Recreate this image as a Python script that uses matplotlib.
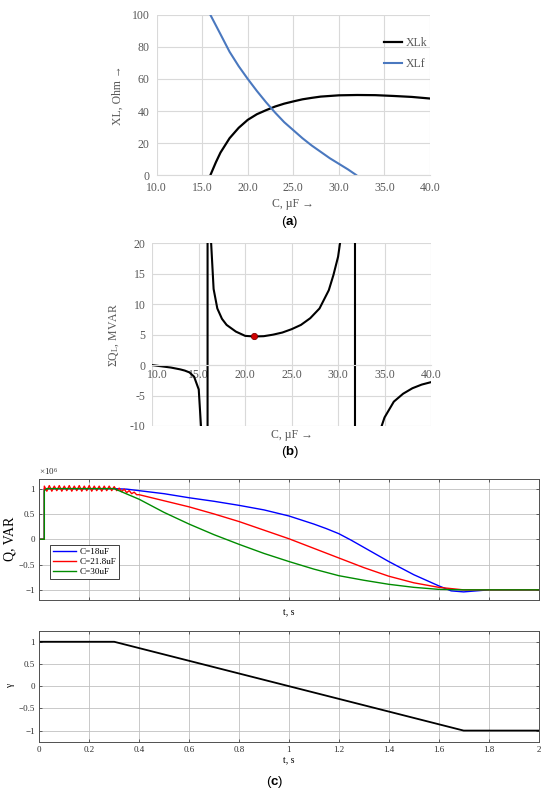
import matplotlib
matplotlib.use('Agg')
import matplotlib.pyplot as plt
import matplotlib.transforms as mtransforms
from matplotlib.ticker import FormatStrFormatter, FuncFormatter

# ── data ─────────────────────────────────────────────────────────────────

# (a) reactances vs capacitance
xlk_c = [15.9, 16.5, 17, 18, 19, 20, 21, 22, 23, 24, 25, 26, 27, 28, 30, 32, 34, 36, 38, 40]
xlk_v = [0, 8, 14, 23, 29.5, 34.5, 38, 40.5, 42.8, 44.6, 46, 47.3, 48.2, 49, 49.8, 50, 49.9, 49.4, 48.8, 47.8]
xlf_c = [15.9, 17, 18, 19, 20, 21, 22, 23, 24, 25, 26, 27, 28, 29, 30, 31, 31.9]
xlf_v = [100, 88, 77, 68, 60, 52.5, 45.5, 39, 33, 28, 23, 18.5, 14.5, 10.5, 7, 3.5, 0]

# (b) total reactive power vs capacitance (values past the limits are clipped)
sq_c = [10, 11, 12, 13, 13.5, 14, 14.5, 15, 15.24, 15.5, 15.95, 15.95, 16.3, 16.6, 17, 17.5,
        18, 19, 20, 21, 22, 23, 24, 25, 26, 27, 28, 29, 29.5, 30, 30.3, 31, 31.82, 31.82,
        33, 34.69, 35, 36, 37, 38, 39, 40]
sq_v = [0, -0.2, -0.4, -0.7, -0.9, -1.2, -1.9, -4.0, -10, -20, -300, 300, 21, 12.5, 9.3, 7.6,
        6.6, 5.5, 4.8, 4.7, 4.75, 5.0, 5.35, 5.9, 6.6, 7.7, 9.3, 12.3, 14.8, 17.8, 21, 60, 400, -400,
        -40, -10, -8.6, -6.0, -4.7, -3.8, -3.2, -2.8]
opt_c = [21]
opt_v = [4.7]

# (c) reactive power, x1e6 VAR
q_blue_t = [0, 0.02, 0.02, 0.3, 0.35, 0.4, 0.5, 0.6, 0.7, 0.8, 0.9, 1.0, 1.1, 1.15, 1.2, 1.25,
            1.3, 1.4, 1.5, 1.6, 1.65, 1.7, 1.75, 1.8, 2.0]
q_blue = [0, 0, 1.0, 1.0, 0.99, 0.96, 0.90, 0.82, 0.75, 0.67, 0.58, 0.46, 0.30, 0.21, 0.11, -0.02,
          -0.16, -0.44, -0.70, -0.92, -1.02, -1.04, -1.02, -1.0, -1.0]
q_red_t = [0, 0.02, 0.02, 0.03, 0.04, 0.05, 0.06, 0.07, 0.08, 0.09, 0.10, 0.11, 0.12, 0.13, 0.14,
           0.15, 0.16, 0.17, 0.18, 0.19, 0.20, 0.21, 0.22, 0.23, 0.24, 0.25, 0.26, 0.27, 0.28,
           0.29, 0.30, 0.31, 0.32, 0.33, 0.34, 0.35, 0.36, 0.37, 0.38, 0.39, 0.40, 0.5, 0.6,
           0.7, 0.8, 0.9, 1.0, 1.1, 1.2, 1.3, 1.4, 1.5, 1.6, 1.7, 1.8, 2.0]
q_red = [0, 0, 1.05, 0.95, 1.06, 0.95, 1.05, 0.96, 1.06, 0.95, 1.05, 0.96, 1.06, 0.95, 1.05,
         0.96, 1.06, 0.95, 1.05, 0.96, 1.06, 0.95, 1.05, 0.96, 1.05, 0.95, 1.05, 0.96, 1.05,
         0.96, 1.04, 0.96, 1.01, 0.94, 0.99, 0.92, 0.96, 0.90, 0.93, 0.88, 0.88, 0.76, 0.64,
         0.50, 0.35, 0.18, 0.01, -0.18, -0.37, -0.56, -0.73, -0.86, -0.95, -1.0, -1.0, -1.0]
q_green_t = [0, 0.02, 0.02, 0.03, 0.3, 0.4, 0.5, 0.6, 0.7, 0.8, 0.9, 1.0, 1.1, 1.2, 1.3, 1.4,
             1.5, 1.6, 1.7, 1.8, 2.0]
q_green = [0, 0, 0.96, 1.0, 1.0, 0.79, 0.53, 0.30, 0.09, -0.10, -0.28, -0.44, -0.59, -0.72, -0.81,
           -0.89, -0.95, -0.99, -1.0, -1.0, -1.0]

# (c) control signal gamma
g_t = [0, 0.3, 1.7, 2.0]
g_v = [1, 1, -1, -1]

# ── style ────────────────────────────────────────────────────────────────

plt.rcParams.update({
    'font.family': ['Liberation Serif', 'DejaVu Serif'],
    'mathtext.fontset': 'custom',
    'mathtext.rm': 'Liberation Serif',
    'mathtext.it': 'Liberation Serif:italic',
    'mathtext.bf': 'Liberation Sans:bold',
})

GRID_XL = '#d9d9d9'
TXT_XL = '#595959'

fig = plt.figure(figsize=(5.5, 7.97), dpi=100)


def excel_axes(ax):
    for s in ['top', 'right', 'left']:
        ax.spines[s].set_visible(False)
    ax.spines['bottom'].set_color(GRID_XL)
    ax.grid(True, color=GRID_XL, linewidth=0.8)
    ax.set_axisbelow(True)
    ax.tick_params(length=0, labelsize=8.5, colors=TXT_XL, pad=5)
    ax.yaxis.set_major_formatter(FuncFormatter(lambda v, p: '%d' % v))


# ── (a) ──
ax1 = fig.add_axes([0.2849, 0.7804, 0.4969, 0.2008])
excel_axes(ax1)
ax1.plot(xlk_c, xlk_v, color='black', linewidth=1.6, label='XLk')
ax1.plot(xlf_c, xlf_v, color='#4a78bf', linewidth=1.5, label='XLf')
ax1.set_xlim(10, 40)
ax1.set_ylim(0, 100)
ax1.set_xticks([10, 15, 20, 25, 30, 35, 40])
ax1.set_yticks([0, 20, 40, 60, 80, 100])
ax1.xaxis.set_major_formatter(FormatStrFormatter('%.1f'))
ax1.set_xlabel('C, µF →', fontsize=8.5, color=TXT_XL, labelpad=3)
ax1.set_ylabel('XL, Ohm →', fontsize=8.5, color=TXT_XL, labelpad=6)
ax1.legend(loc='upper right', bbox_to_anchor=(1.03, 0.93), frameon=False, fontsize=8.5,
           handlelength=1.6, handletextpad=0.3, labelspacing=0.75, labelcolor=TXT_XL)

# ── (b) ──
ax2 = fig.add_axes([0.2769, 0.4655, 0.5067, 0.2292])
excel_axes(ax2)
ax2.plot(sq_c, sq_v, color='black', linewidth=1.5, clip_on=True)
ax2.plot(opt_c, opt_v, 'o', color='#d00000', markeredgecolor='#800000', markersize=4.5,
         markeredgewidth=0.6, zorder=5)
ax2.set_xlim(10, 40)
ax2.set_ylim(-10, 20)
ax2.spines['bottom'].set_position(('data', 0))
ax2.set_xticks([10, 15, 20, 25, 30, 35, 40])
ax2.set_yticks([-10, -5, 0, 5, 10, 15, 20])
ax2.xaxis.set_major_formatter(FormatStrFormatter('%.1f'))
ax2.tick_params(axis='x', pad=3)
ax2.set_xlabel('C, µF →', fontsize=8.5, color=TXT_XL)
ax2.xaxis.set_label_coords(0.5, -0.015)
ax2.set_ylabel(r'ΣQ$_\mathrm{L}$, MVAR', fontsize=8.5, color=TXT_XL, labelpad=6)
fig.canvas.draw()
first = ax2.get_xticklabels()[0]
first.set_transform(first.get_transform() +
                    mtransforms.ScaledTranslation(5 / 100, 0, fig.dpi_scale_trans))

# ── (c) ──
c_ticks = [0, 0.2, 0.4, 0.6, 0.8, 1.0, 1.2, 1.4, 1.6, 1.8, 2.0]
fmt_g = FuncFormatter(lambda v, p: ('%g' % round(v, 2)).replace('-', '\u2212'))


def matlab_axes(ax):
    ax.grid(True, color='#c0c0c0', linewidth=0.6)
    ax.set_axisbelow(True)
    for s in ax.spines.values():
        s.set_color('#505050')
        s.set_linewidth(0.7)
    ax.tick_params(direction='in', length=2.5, width=0.5, top=True, right=True,
                   labelsize=6.5, pad=3, colors='#303030')
    ax.set_xlim(0, 2)
    ax.set_xticks(c_ticks)
    ax.xaxis.set_major_formatter(fmt_g)


ax3 = fig.add_axes([0.0715, 0.2472, 0.9076, 0.1524])
matlab_axes(ax3)
ax3.plot(q_blue_t, q_blue, color='#0000ff', linewidth=1.0, label='C=18uF')
ax3.plot(q_red_t, q_red, color='#ff0000', linewidth=1.0, label='C=21.8uF')
ax3.plot(q_green_t, q_green, color='#008c00', linewidth=1.0, label='C=30uF')
ax3.set_ylim(-1.2, 1.2)
ax3.set_yticks([-1, -0.5, 0, 0.5, 1])
ax3.yaxis.set_major_formatter(fmt_g)
ax3.tick_params(labelbottom=False)
ax3.set_xlabel('t, s', fontsize=7, labelpad=5)
ax3.set_ylabel('Q, VAR', fontsize=10, labelpad=2)
ax3.text(0.0, 1.01, r'$\times10^6$', transform=ax3.transAxes, fontsize=6.5,
         ha='left', va='bottom', color='#303030')
leg = ax3.legend(loc='upper left', bbox_to_anchor=(0.021, 0.455), fontsize=6.6,
                 handlelength=2.6, handletextpad=0.3, labelspacing=0.2,
                 borderpad=0.3, fancybox=False, framealpha=1, borderaxespad=0)
leg.get_frame().set_edgecolor('#202020')
leg.get_frame().set_linewidth(0.6)

ax4 = fig.add_axes([0.0715, 0.0694, 0.9076, 0.1393])
matlab_axes(ax4)
ax4.plot(g_t, g_v, color='black', linewidth=1.3)
ax4.set_ylim(-1.25, 1.25)
ax4.set_yticks([-1, -0.5, 0, 0.5, 1])
ax4.yaxis.set_major_formatter(fmt_g)
ax4.set_xlabel('t, s', fontsize=7, labelpad=1)
ax4.set_ylabel('γ', fontsize=7, labelpad=3)

# panel captions
cap = dict(ha='center', va='center', fontsize=9.5, family='Liberation Sans')
fig.text(0.527, 1 - 222 / 797, r'($\mathbf{a}$)', **cap)
fig.text(0.527, 1 - 452 / 797, r'($\mathbf{b}$)', **cap)
fig.text(0.50, 1 - 782 / 797, r'($\mathbf{c}$)', **cap)

fig.savefig('out.png', dpi=100, facecolor='white')
